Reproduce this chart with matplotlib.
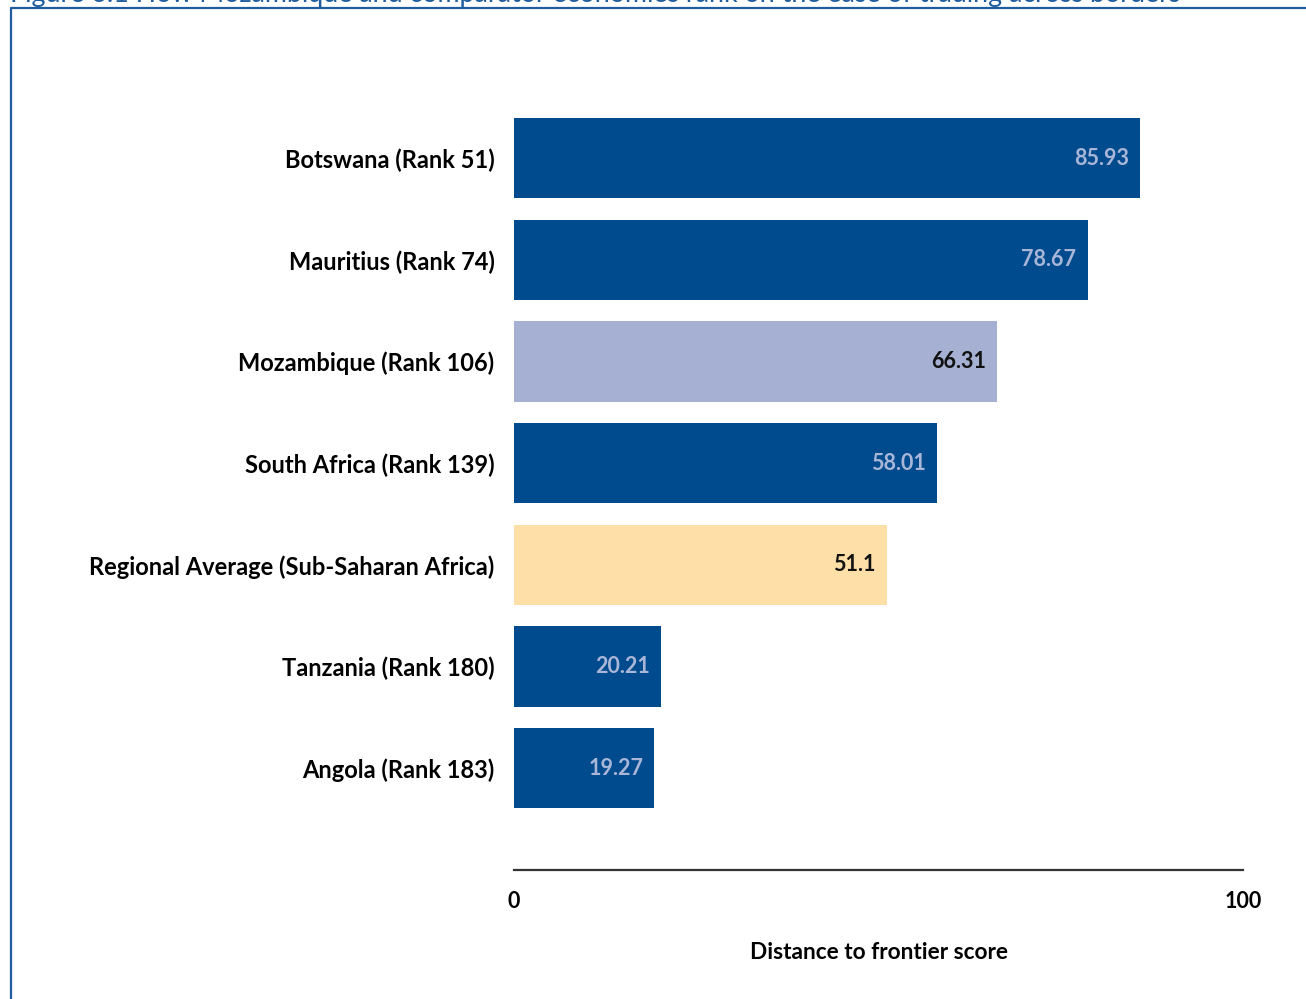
import matplotlib
matplotlib.use("Agg")
import matplotlib.pyplot as plt
from matplotlib.lines import Line2D

plt.rcParams['font.family'] = ['Lato', 'DejaVu Sans']

# data
countries = ["Botswana (Rank 51)", "Mauritius (Rank 74)", "Mozambique (Rank 106)",
             "South Africa (Rank 139)", "Regional Average (Sub-Saharan Africa)",
             "Tanzania (Rank 180)", "Angola (Rank 183)"]
scores = [85.93, 78.67, 66.31, 58.01, 51.1, 20.21, 19.27]
score_labels = ["85.93", "78.67", "66.31", "58.01", "51.1", "20.21", "19.27"]
kinds = ["other", "other", "focus", "other", "region", "other", "other"]

bar_colors = {"other": "#004b8d", "focus": "#a5b0d3", "region": "#ffdfa8"}
text_colors = {"other": "#a9b6d8", "focus": "#111111", "region": "#111111"}

W, H = 1306, 999
fig = plt.figure(figsize=(W / 100, H / 100), dpi=100)

# axes placed so that 0..100 spans the reference axis line
ax = fig.add_axes([514 / W, 1 - 870 / H, 729 / W, 7.6 * 101.7 / H])

ypos = list(range(len(countries)))
ax.barh(ypos, scores, height=0.79,
        color=[bar_colors[k] for k in kinds])

for y, v, lab, k in zip(ypos, scores, score_labels, kinds):
    ax.annotate(lab, (v, y), xytext=(-8, 0), textcoords='offset points',
                ha='right', va='center', fontsize=15.5, fontweight='bold',
                color=text_colors[k])

ax.set_xlim(0, 100)
ax.set_ylim(7.0, -0.6)
ax.set_yticks(ypos)
ax.set_yticklabels(countries, fontsize=17, fontweight='bold')
ax.tick_params(axis='y', length=0, pad=14)
ax.set_xticks([0, 100])
ax.set_xticklabels(["0", "100"], fontsize=15.5, fontweight='bold')
ax.tick_params(axis='x', length=0, pad=15)
ax.set_xlabel("Distance to frontier score", fontsize=16.3, fontweight='bold',
              labelpad=22)

for side in ['top', 'right', 'left']:
    ax.spines[side].set_visible(False)
ax.spines['bottom'].set_color('#333333')
ax.spines['bottom'].set_linewidth(1.6)

# page frame and clipped figure caption
frame = Line2D([11 / W, 11 / W, 1.0], [0.0, 1 - 8 / H, 1 - 8 / H],
               transform=fig.transFigure, color='#1f5c9e', linewidth=1.6)
fig.add_artist(frame)
fig.text(10 / W, 1 - 2 / H,
         "Figure 6.1 How Mozambique and comparator economies rank on the ease of trading across borders",
         ha='left', va='baseline', fontsize=19.3, color='#1f5c9e')

fig.savefig("out.png", dpi=100)
